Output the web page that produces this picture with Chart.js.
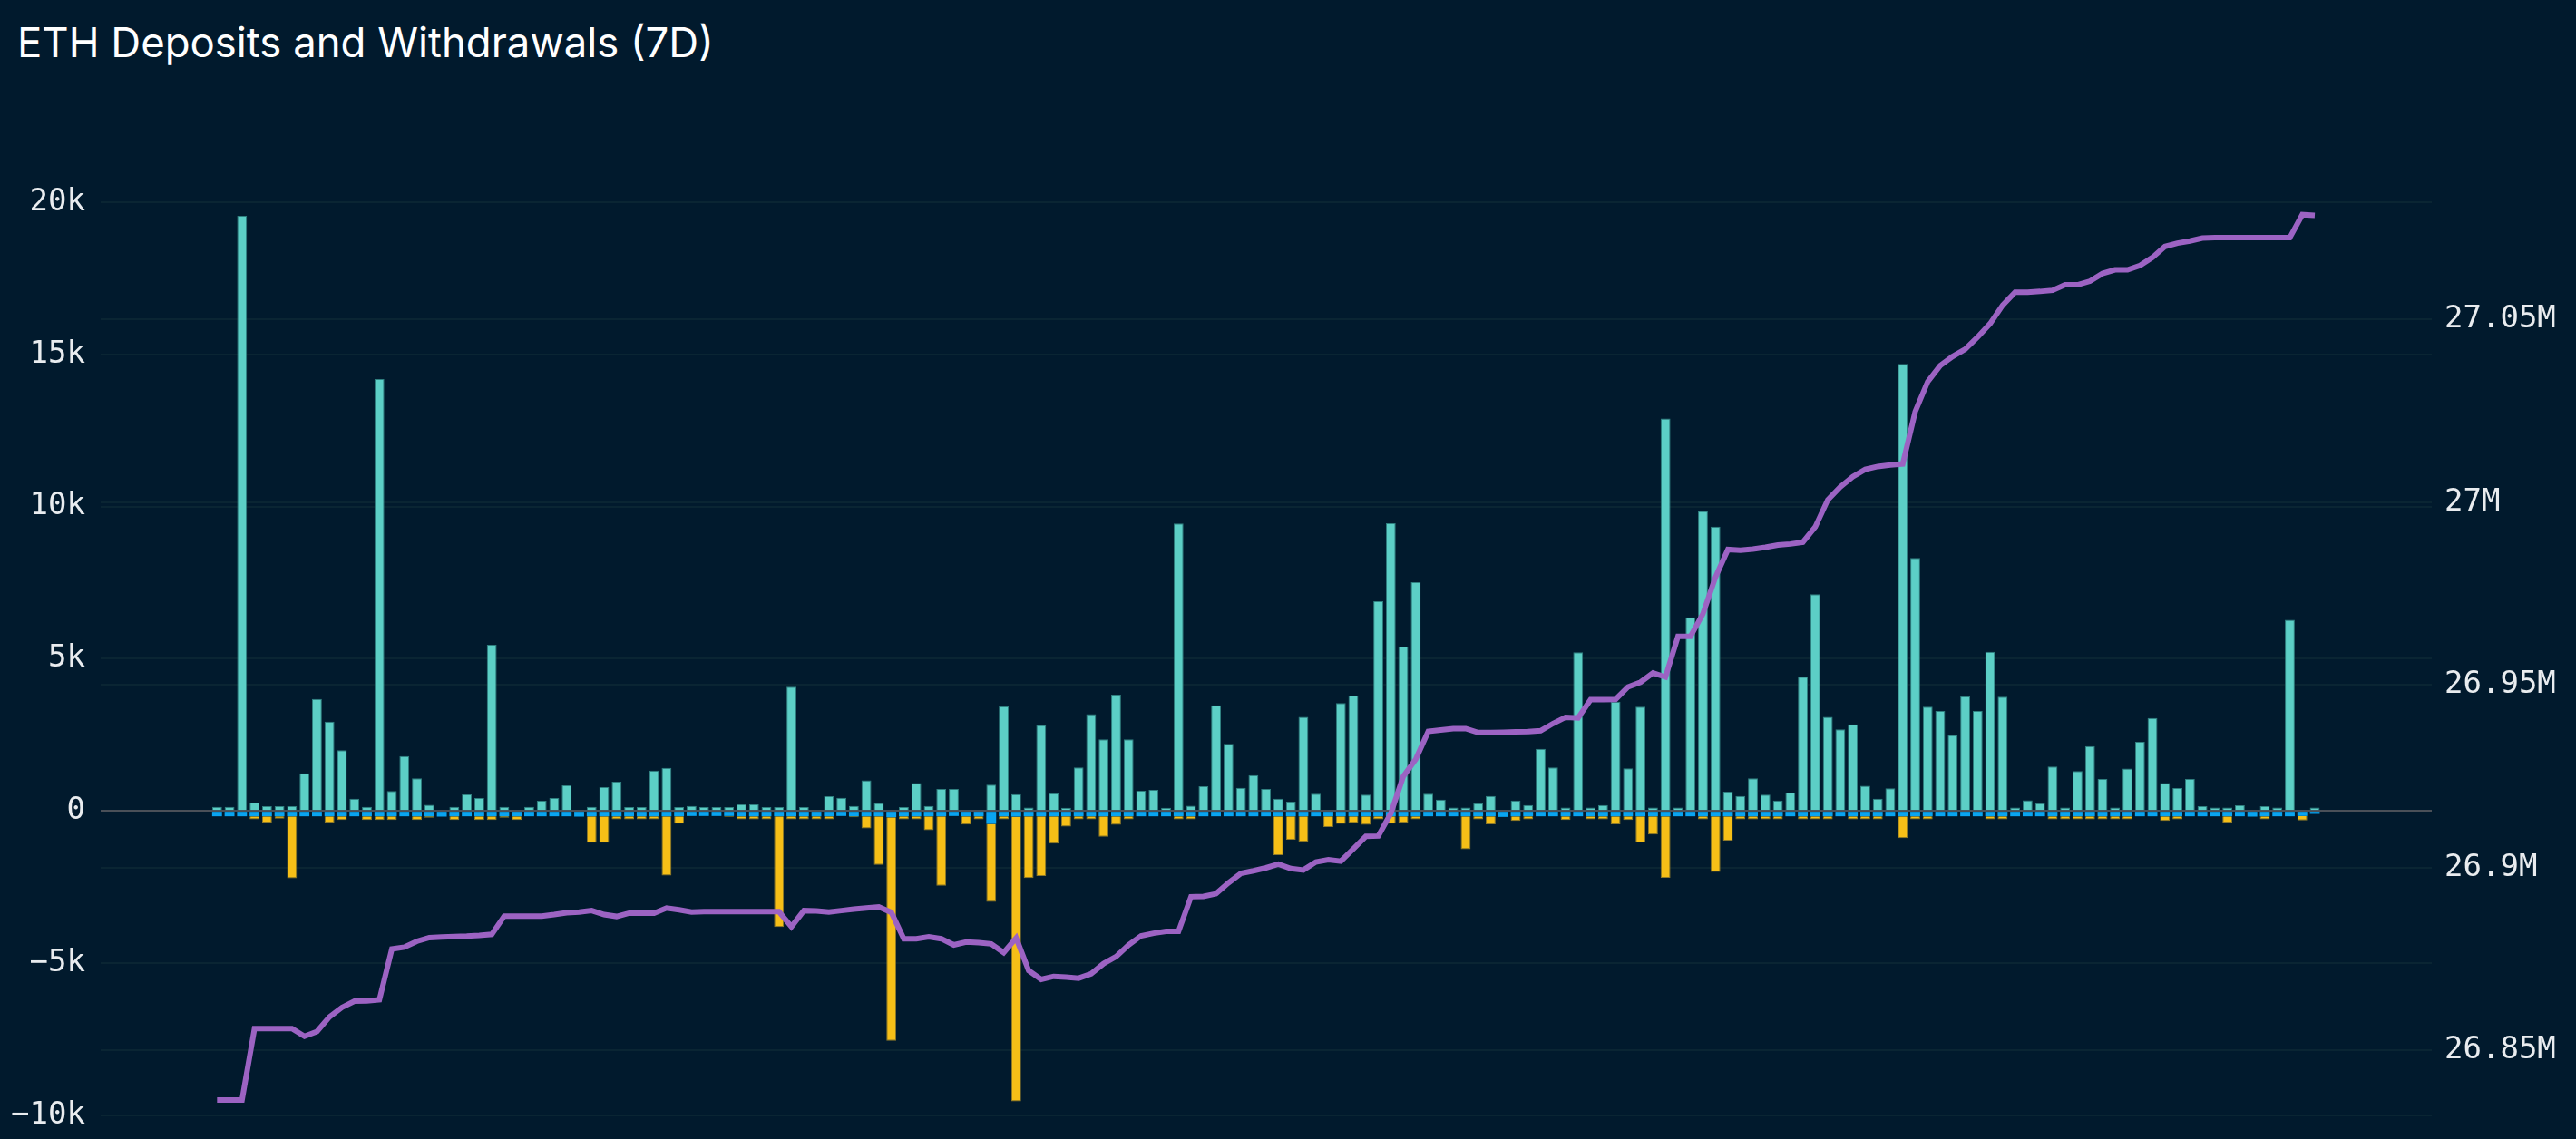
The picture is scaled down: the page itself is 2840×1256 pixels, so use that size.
<!DOCTYPE html>
<html>
<head>
<meta charset="utf-8">
<title>ETH Deposits and Withdrawals (7D)</title>
<script src="https://cdn.jsdelivr.net/npm/chart.js@4.4.1/dist/chart.umd.min.js"></script>
<style>
  html, body { margin: 0; padding: 0; background: #011a2d; overflow: hidden; }
  #wrap { position: relative; width: 2840px; height: 1256px; }
  #title {
    position: absolute; left: 19px; top: 24px;
    font-family: Inter, Roboto, sans-serif; font-size: 45.5px; line-height: 45px;
    color: #ffffff; white-space: nowrap;
  }
  canvas { position: absolute; left: 0; top: 0; }
</style>
</head>
<body>
<div id="wrap">
  <div id="title">ETH Deposits and Withdrawals (7D)</div>
  <canvas id="myChart" width="2840" height="1256"></canvas>
</div>
<script>
// hourly buckets over 7 days (0 = oldest hour)
const hours = Array.from({ length: 169 }, (_, i) => i);

// deposits to exchanges, ETH
const deposits = [
  130, 130, 19550, 270, 150, 150, 150, 1230, 3680, 2930,
  1990, 400, 130, 14190, 650, 1800, 1070, 200, 0, 130,
  540, 420, 5460, 130, 0, 130, 330, 420, 840, 0,
  130, 780, 960, 120, 120, 1320, 1410, 120, 160, 120,
  120, 120, 210, 210, 120, 120, 4080, 120, 0, 480,
  430, 160, 1000, 260, 0, 120, 910, 160, 720, 720,
  0, 0, 860, 3430, 550, 110, 2820, 570, 100, 1430,
  3180, 2350, 3820, 2350, 660, 690, 100, 9440, 170, 810,
  3470, 2200, 760, 1170, 720, 400, 300, 3090, 560, 0,
  3540, 3790, 530, 6890, 9450, 5400, 7510, 560, 370, 110,
  110, 240, 490, 0, 340, 190, 2040, 1430, 110, 5210,
  110, 190, 3590, 1400, 3420, 110, 12890, 110, 6360, 9850,
  9340, 630, 490, 1070, 530, 340, 600, 4410, 7120, 3090,
  2680, 2840, 820, 400, 740, 14690, 8310, 3420, 3280, 2490,
  3760, 3280, 5230, 3750, 110, 350, 250, 1460, 110, 1310,
  2130, 1050, 110, 1390, 2270, 3050, 910, 750, 1050, 150,
  110, 110, 180, 0, 150, 110, 6280, 0, 110
];

// withdrawals from exchanges, ETH (negative)
const withdrawals = [
  0, 0, 0, -100, -200, -80, -2040, 0, 0, -200,
  -120, 0, -120, -120, -120, 0, -120, -50, 0, -120,
  0, -120, -120, -50, -120, 0, 0, 0, 0, 0,
  -870, -870, -100, -100, -100, -100, -1950, -240, 0, 0,
  0, -30, -100, -100, -100, -3640, -100, -100, -100, -100,
  0, -30, -400, -1600, -7350, -100, -100, -460, -2280, 0,
  -270, -100, -2560, -100, -9360, -2030, -1960, -900, -340, -100,
  -100, -670, -280, -100, 0, 0, 0, -100, -100, 0,
  0, 0, 0, 0, 0, -1280, -770, -840, 0, -350,
  -250, -220, -280, -100, -240, -200, -100, 0, 0, 0,
  -1080, -100, -260, 0, -150, -100, 0, 0, -120, 0,
  -100, -100, -260, -120, -860, -600, -2020, 0, 0, -100,
  -1830, -800, -100, -100, -100, -100, 0, -100, -100, -100,
  0, -100, -100, -100, 0, -720, -100, -100, 0, 0,
  0, 0, -100, -100, 0, 0, 0, -100, -100, -100,
  -100, -100, -100, -100, 0, 0, -150, -100, 0, 0,
  0, -200, 0, 0, -100, 0, 0, -150, 0
];

// internal transfers, ETH
const transfers = [
  -180, -180, -180, -180, -180, -180, -180, -180, -180, -180,
  -180, -180, -180, -180, -180, -180, -180, -180, -190, -180,
  -180, -180, -180, -180, -180, -180, -180, -180, -180, -190,
  -180, -180, -180, -180, -180, -180, -180, -180, -170, -170,
  -170, -170, -180, -180, -180, -180, -180, -180, -180, -180,
  -170, -180, -180, -180, -210, -180, -180, -180, -180, -170,
  -180, -180, -430, -180, -190, -180, -180, -180, -180, -180,
  -180, -180, -180, -180, -180, -180, -180, -180, -180, -180,
  -180, -180, -180, -180, -180, -180, -180, -180, -180, -180,
  -180, -180, -180, -180, -180, -180, -180, -180, -180, -180,
  -180, -180, -180, -200, -180, -180, -180, -180, -180, -180,
  -180, -180, -180, -180, -180, -180, -180, -180, -180, -180,
  -180, -180, -180, -180, -180, -180, -180, -180, -180, -180,
  -180, -180, -180, -180, -180, -180, -180, -180, -180, -180,
  -180, -180, -180, -180, -180, -180, -180, -180, -180, -180,
  -180, -180, -180, -180, -180, -180, -180, -180, -180, -180,
  -180, -180, -180, -190, -180, -180, -180, -170, -100
];

// total ETH held on exchanges (right axis)
const balance = [
  26836500, 26836500, 26836500, 26856000, 26856000, 26856000, 26856000, 26853900, 26855200, 26859200,
  26861800, 26863500, 26863600, 26863900, 26877800, 26878300, 26879900, 26880900, 26881100, 26881200,
  26881300, 26881500, 26881800, 26886800, 26886800, 26886800, 26886800, 26887200, 26887700, 26887900,
  26888300, 26887200, 26886700, 26887600, 26887600, 26887600, 26889000, 26888500, 26887900, 26888000,
  26888000, 26888000, 26888000, 26888000, 26888000, 26888000, 26883900, 26888300, 26888200, 26887900,
  26888300, 26888700, 26889000, 26889300, 26887800, 26880600, 26880600, 26881100, 26880600, 26878900,
  26879700, 26879500, 26879200, 26876800, 26880800, 26871900, 26869500, 26870300, 26870100, 26869800,
  26871000, 26873800, 26875700, 26878900, 26881400, 26882100, 26882600, 26882600, 26892100, 26892200,
  26892900, 26895900, 26898500, 26899200, 26900000, 26901000, 26899800, 26899400, 26901600, 26902200,
  26901800, 26905200, 26908600, 26908700, 26914900, 26925000, 26929700, 26937300, 26937700, 26938100,
  26938100, 26937000, 26937000, 26937100, 26937200, 26937300, 26937500, 26939500, 26941200, 26941000,
  26946000, 26946000, 26946100, 26949500, 26950800, 26953300, 26952200, 26963300, 26963300, 26969500,
  26979500, 26987100, 26986900, 26987200, 26987700, 26988300, 26988600, 26989100, 26993300, 27000700,
  27004200, 27007000, 27009000, 27009800, 27010200, 27010500, 27024800, 27033000, 27037400, 27039900,
  27041900, 27045200, 27048900, 27053900, 27057500, 27057500, 27057700, 27058000, 27059500, 27059500,
  27060500, 27062600, 27063600, 27063600, 27064800, 27067000, 27070000, 27070900, 27071500, 27072300,
  27072400, 27072400, 27072400, 27072400, 27072400, 27072400, 27072400, 27078700, 27078500
];

const leftTicks = [-10000, -5000, 0, 5000, 10000, 15000, 20000];
const rightTicks = [26850000, 26900000, 26950000, 27000000, 27050000];

const pts = arr => arr.map((v, i) => ({ x: hours[i], y: v }));
const tickFont = { family: 'DejaVu Sans Mono', size: 34 };
const gridFaint = '#0a2533';

// no label padding reserved around the plot, the plot runs off the bottom edge
const noPad = s => { s.paddingTop = 0; s.paddingBottom = 0; };

const ctx = document.getElementById('myChart').getContext('2d');
const myChart = new Chart(ctx, {
  type: 'bar',
  data: {
    datasets: [
      {
        type: 'line',
        label: 'Exchange balance',
        data: pts(balance),
        yAxisID: 'y1',
        borderColor: '#9c63c3',
        borderWidth: 6,
        pointRadius: 0,
        tension: 0,
        order: 0
      },
      {
        label: 'Transfers',
        data: pts(transfers),
        yAxisID: 'y',
        backgroundColor: '#0aa4f0',
        borderWidth: 0,
        order: 1
      },
      {
        label: 'Withdrawals',
        data: pts(withdrawals),
        yAxisID: 'y',
        backgroundColor: '#f6bf17',
        borderColor: '#8f7a2a',
        borderWidth: 1,
        order: 2
      },
      {
        label: 'Deposits',
        data: pts(deposits),
        yAxisID: 'y',
        backgroundColor: '#5ccfc6',
        borderColor: '#2f7f7f',
        borderWidth: 1,
        order: 3
      }
    ]
  },
  options: {
    responsive: false,
    animation: false,
    devicePixelRatio: 1,
    layout: { padding: { top: 223, bottom: 0, left: 0, right: 0 } },
    datasets: { bar: { categoryPercentage: 1, barPercentage: 0.79 } },
    plugins: {
      legend: { display: false },
      tooltip: { enabled: false },
      title: { display: false }
    },
    scales: {
      x: {
        type: 'linear',
        min: -9.32,
        max: 177.37,
        offset: false,
        stacked: true,
        display: false,
        grid: { offset: false }
      },
      y: {
        position: 'left',
        stacked: true,
        min: -10784,
        max: 20000,
        border: { display: false },
        grid: {
          drawTicks: false,
          lineWidth: 2,
          color: c => (c.tick && c.tick.value === 0) ? '#4a5058' : gridFaint
        },
        afterBuildTicks: s => { s.ticks = leftTicks.map(v => ({ value: v })); },
        ticks: {
          padding: 17,
          color: '#e9ecef',
          font: tickFont,
          callback: v => v === 0 ? '0' : (v < 0 ? '\u2212' : '') + Math.abs(v / 1000) + 'k'
        },
        afterFit: s => { s.width = 111; noPad(s); }
      },
      y1: {
        position: 'right',
        min: 26825809,
        max: 27082105,
        border: { display: false },
        grid: { drawTicks: false, lineWidth: 2, color: gridFaint },
        afterBuildTicks: s => { s.ticks = rightTicks.map(v => ({ value: v })); },
        ticks: {
          padding: 14,
          color: '#e9ecef',
          font: tickFont,
          callback: v => (v / 1e6) + 'M'
        },
        afterFit: s => { s.width = 159; noPad(s); }
      }
    }
  }
});
</script>
</body>
</html>
